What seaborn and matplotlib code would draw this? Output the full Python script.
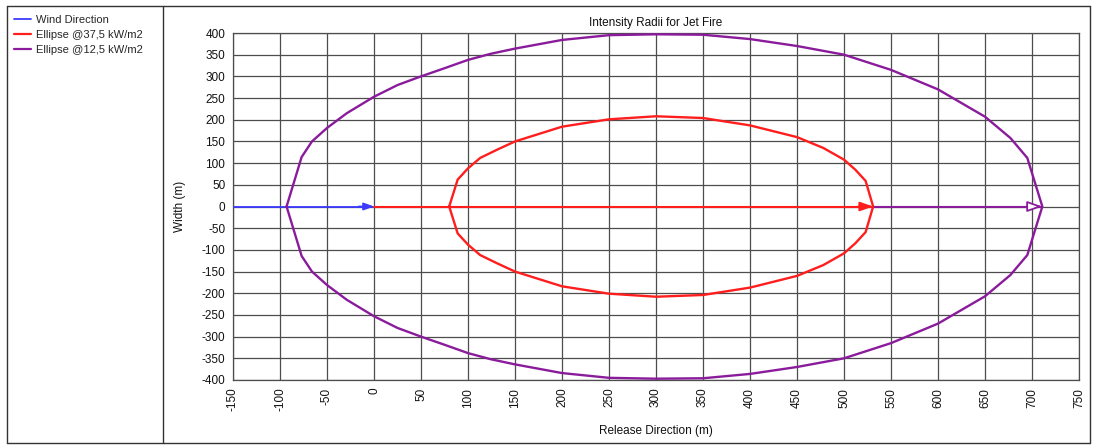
import matplotlib
matplotlib.use("Agg")
import matplotlib.pyplot as plt
import seaborn as sns
from matplotlib.lines import Line2D

# ---- data ----
# upper half of the 12.5 kW/m2 ellipse (x, y), lower half is its mirror
purple_x = [-93, -77, -66, -50, -29, 0, 25, 50, 74, 100, 124, 150, 200, 250, 300,
            350, 400, 450, 500, 550, 600, 650, 677, 695, 711]
purple_y = [0, 114, 150, 181, 215, 253, 280, 300, 318, 338, 352, 364, 384, 395, 397,
            396, 386, 370, 350, 315, 270, 207, 158, 112, 0]
# upper half of the 37.5 kW/m2 ellipse
red_x = [80, 89, 100, 113, 131, 150, 200, 250, 300, 350, 400, 450, 478, 500, 512, 523, 531]
red_y = [0, 62, 88, 112, 131, 150, 184, 201, 208, 204, 187, 160, 135, 108, 85, 59, 0]
# direction arrows along y = 0
wind_x = [-150, 0]
wind_y = [0, 0]
red_dir_x = [0, 531]
red_dir_y = [0, 0]
purple_dir_x = [531, 711]
purple_dir_y = [0, 0]

x_ticks = list(range(-150, 751, 50))
y_ticks = list(range(-400, 401, 50))
series_labels = ["Wind Direction", "Ellipse @37,5 kW/m2", "Ellipse @12,5 kW/m2"]
title = "Intensity Radii for Jet Fire"
xlabel = "Release Direction (m)"
ylabel = "Width (m)"

BLUE = "#3b3bff"
RED = "#ff1e1e"
PURPLE = "#8a1c9c"
GRID = "#4d4d4d"

sns.set_style("white")
plt.rcParams["font.family"] = ["Liberation Sans", "DejaVu Sans"]

W, H = 1093, 445
fig = plt.figure(figsize=(W / 100, H / 100), dpi=100)
fig.patch.set_facecolor("white")

# frame lines of the report panel
def fl(x0, y0, x1, y1):
    fig.add_artist(Line2D([x0 / W, x1 / W], [1 - y0 / H, 1 - y1 / H],
                          transform=fig.transFigure, color="#333333", lw=1.0))

fl(7, 5.5, 1090, 5.5)
fl(7, 443, 1090, 443)
fl(7, 5.5, 7, 443)
fl(1090, 5.5, 1090, 443)
fl(163, 5.5, 163, 443)

ax = fig.add_axes([233 / W, 1 - 380 / H, (1079 - 233) / W, (380 - 33) / H])


def closed(xs, ys):
    cx = list(xs) + list(xs[::-1])
    cy = list(ys) + [-v for v in ys[::-1]]
    return cx, cy


px, py = closed(purple_x, purple_y)
rx, ry = closed(red_x, red_y)

sns.lineplot(x=wind_x, y=wind_y, sort=False, estimator=None, color=BLUE, lw=1.3, ax=ax, zorder=4)
sns.lineplot(x=red_dir_x, y=red_dir_y, sort=False, estimator=None, color=RED, lw=1.5, ax=ax, zorder=4)
sns.lineplot(x=purple_dir_x, y=purple_dir_y, sort=False, estimator=None, color=PURPLE, lw=1.5, ax=ax, zorder=4)
sns.lineplot(x=rx, y=ry, sort=False, estimator=None, color=RED, lw=1.7, ax=ax, zorder=5)
sns.lineplot(x=px, y=py, sort=False, estimator=None, color=PURPLE, lw=1.7, ax=ax, zorder=5)

# arrow heads
for xs, col, fc, hl, hw in [(wind_x, BLUE, BLUE, 0.6, 0.22), (red_dir_x, RED, RED, 0.8, 0.28),
                            (purple_dir_x, PURPLE, "white", 0.9, 0.32)]:
    ax.annotate("", xy=(xs[1], 0), xycoords="data", xytext=(-11, 0), textcoords="offset points",
                arrowprops=dict(arrowstyle=f"-|>,head_length={hl},head_width={hw}",
                                color=col, fc=fc, lw=1.3, shrinkA=0, shrinkB=0),
                zorder=6)

ax.set_xlim(x_ticks[0], x_ticks[-1])
ax.set_ylim(y_ticks[0], y_ticks[-1])
ax.set_xticks(x_ticks)
ax.set_yticks(y_ticks)
ax.set_xticklabels([str(v) for v in x_ticks], rotation=90)
ax.set_yticklabels([str(v) for v in y_ticks])
ax.grid(True, color=GRID, lw=0.9)
ax.set_axisbelow(True)
for s in ax.spines.values():
    s.set_color(GRID)
    s.set_linewidth(0.9)
ax.tick_params(axis="both", direction="out", length=4, width=0.9, color=GRID,
               labelsize=8.5, labelcolor="#111111", pad=1.5)
ax.set_title(title, fontsize=8.5, pad=5, color="#111111")
ax.set_xlabel(xlabel, fontsize=8.5, labelpad=10, color="#111111")
ax.set_ylabel(ylabel, fontsize=8.5, labelpad=11, color="#111111")

handles = [Line2D([], [], color=BLUE, lw=1.3), Line2D([], [], color=RED, lw=1.6),
           Line2D([], [], color=PURPLE, lw=1.6)]
fig.legend(handles, series_labels, loc="upper left", bbox_to_anchor=(14 / W, 1 - 15 / H),
           frameon=False, fontsize=8, handlelength=1.5, handletextpad=0.5,
           labelspacing=0.45, borderpad=0, borderaxespad=0)

fig.savefig("out.png", dpi=100, facecolor="white")
